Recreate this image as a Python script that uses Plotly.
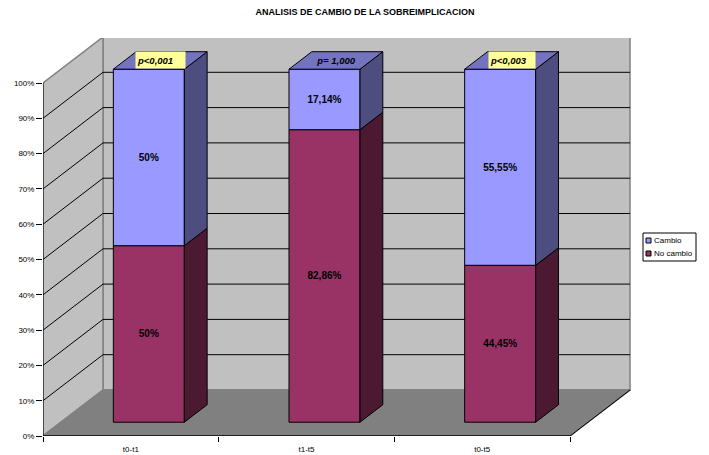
import plotly.graph_objects as go

categories = ["t0-t1", "t1-t5", "t0-t5"]
no_cambio = [50, 82.86, 44.45]
cambio = [50, 17.14, 55.55]
p_labels = ["p<0,001", "p= 1,000", "p<0,003"]
p_backgrounds = ["#FFFF99", "rgba(0,0,0,0)", "#FFFF99"]
y_ticks = list(range(0, 101, 10))
series_names = ["Cambio", "No cambio"]

PAGE = 8  # the browser's default page margin around the figure
W, H = 709 - PAGE, 455 - PAGE
L, R, T, B = 43 - PAGE, 631 - PAGE, 38 - PAGE, 436 - PAGE
CAT_PX = (570 - 43) / 3
PCT_PX = (436 - 83) / 100
DX = 60 / CAT_PX        # full depth in x units
DY = 46 / PCT_PX        # full depth in y units
BAR_W = 71 / CAT_PX
D0, D1 = 0.30, 0.68     # bar depth range
X0 = -0.5
X_END = 2.5
XMAX = X0 + (R - L) / CAT_PX
YMAX = (B - T) / PCT_PX

FRONT = {"Cambio": "#9999FF", "No cambio": "#993366"}
TOP = "#7373BF"
SIDE = {"Cambio": "#4D4D80", "No cambio": "#4C1933"}
P_BOX_W = [47, 46, 44]


def proj(x, y, d):
    return x + DX * d, y + DY * d


def poly(points):
    xs = [p[0] for p in points]
    ys = [p[1] for p in points]
    return "M" + "L".join(f"{a},{b}" for a, b in zip(xs, ys)) + "Z"


shapes = []


def wall(points, color):
    shapes.append(dict(type="path", path=poly(points), xref="x", yref="y", layer="below",
                       fillcolor=color, line=dict(color="#808080", width=1.5)))


# back wall, left wall, floor
wall([proj(X0, 0, 1), proj(X_END, 0, 1), proj(X_END, 100, 1), proj(X0, 100, 1)], "#C0C0C0")
wall([proj(X0, 0, 0), proj(X0, 0, 1), proj(X0, 100, 1), proj(X0, 100, 0)], "#C0C0C0")
wall([proj(X0, 0, 0), proj(X_END, 0, 0), proj(X_END, 0, 1), proj(X0, 0, 1)], "#808080")

# gridlines on walls
for t in y_ticks[1:-1]:
    a, b, c = proj(X0, t, 0), proj(X0, t, 1), proj(X_END, t, 1)
    shapes.append(dict(type="path", path=f"M{a[0]},{a[1]}L{b[0]},{b[1]}L{c[0]},{c[1]}",
                       xref="x", yref="y", layer="below", line=dict(color="#000000", width=1)))
# floor right edge
a, b = proj(X_END, 0, 0), proj(X_END, 0, 1)
shapes.append(dict(type="line", x0=a[0], y0=a[1], x1=b[0], y1=b[1], xref="x", yref="y",
                   layer="below", line=dict(color="#000000", width=1)))

fig = go.Figure()

# front faces
xf = [i + DX * D0 for i in range(3)]
zf = DY * D0
fmt = lambda v: "<b>" + (f"{v:.2f}".rstrip("0").rstrip(".")).replace(".", ",") + "%</b>"
fig.add_trace(go.Bar(name="No cambio", x=xf, y=no_cambio, base=[zf] * 3, width=BAR_W,
                     marker=dict(color=FRONT["No cambio"], line=dict(color="#000000", width=1)),
                     text=[fmt(v) for v in no_cambio], textposition="inside", insidetextanchor="middle",
                     textangle=0, textfont=dict(size=10, color="#000000", family="Liberation Sans"),
                     hoverinfo="skip", showlegend=False))
fig.add_trace(go.Bar(name="Cambio", x=xf, y=cambio, base=[zf + v for v in no_cambio], width=BAR_W,
                     marker=dict(color=FRONT["Cambio"], line=dict(color="#000000", width=1)),
                     text=[fmt(v) for v in cambio], textposition="inside", insidetextanchor="middle",
                     textangle=0, textfont=dict(size=10, color="#000000", family="Liberation Sans"),
                     hoverinfo="skip", showlegend=False))


def face(points, color):
    pts = points + [points[0]]
    fig.add_trace(go.Scatter(x=[p[0] for p in pts], y=[p[1] for p in pts], mode="lines",
                             fill="toself", fillcolor=color, line=dict(color="#000000", width=1),
                             hoverinfo="skip", showlegend=False))


# sides and tops
for i in range(3):
    xr = i + BAR_W / 2
    xl = i - BAR_W / 2
    n = no_cambio[i]
    t = n + cambio[i]
    face([proj(xr, 0, D0), proj(xr, 0, D1), proj(xr, n, D1), proj(xr, n, D0)], SIDE["No cambio"])
    face([proj(xr, n, D0), proj(xr, n, D1), proj(xr, t, D1), proj(xr, t, D0)], SIDE["Cambio"])
    face([proj(xl, t, D0), proj(xr, t, D0), proj(xr, t, D1), proj(xl, t, D1)], TOP)

# axis lines
fig.add_trace(go.Scatter(x=[X0, X_END], y=[0, 0], mode="lines", line=dict(color="#000000", width=1.5),
                         hoverinfo="skip", showlegend=False, cliponaxis=False))
fig.add_trace(go.Scatter(x=[X0, X0], y=[0, 100], mode="lines", line=dict(color="#000000", width=1),
                         hoverinfo="skip", showlegend=False, cliponaxis=False))

annotations = []
for i in range(3):
    top = no_cambio[i] + cambio[i]
    px, py = proj(i, top, (D0 + D1) / 2)
    annotations.append(dict(x=px, y=py, xref="x", yref="y", text=f"<b><i>{p_labels[i]}</i></b>", showarrow=False,
                            font=dict(size=9.5, color="#000000", family="Liberation Sans"),
                            bgcolor=p_backgrounds[i], borderpad=1, width=P_BOX_W[i], height=14,
                            align="left" if i != 1 else "center", xanchor="center", yanchor="middle"))

# legend box
LEG_X0, LEG_X1, LEG_Y0, LEG_Y1 = 643 - PAGE, 696 - PAGE, 233 - PAGE, 261 - PAGE
shapes.append(dict(type="rect", xref="paper", yref="paper",
                   x0=(LEG_X0 - L) / (R - L), x1=(LEG_X1 - L) / (R - L),
                   y0=(B - LEG_Y1) / (B - T), y1=(B - LEG_Y0) / (B - T),
                   fillcolor="#FFFFFF", line=dict(color="#000000", width=1)))
for k, name in enumerate(series_names):
    cy = LEG_Y0 + 7.5 + 13 * k
    sx = LEG_X0 + 3
    shapes.append(dict(type="rect", xref="paper", yref="paper",
                       x0=(sx - L) / (R - L), x1=(sx + 5 - L) / (R - L),
                       y0=(B - cy - 2.5) / (B - T), y1=(B - cy + 2.5) / (B - T),
                       fillcolor=FRONT[name], line=dict(color="#000000", width=1)))
    annotations.append(dict(x=(sx + 7 - L) / (R - L), y=(B - cy) / (B - T), xref="paper", yref="paper",
                            text=name, showarrow=False, xanchor="left", yanchor="middle", borderpad=0,
                            font=dict(size=8, color="#000000", family="Liberation Sans")))

fig.update_layout(
    width=W, height=H,
    margin=dict(l=L, r=W - R, t=T, b=H - B, pad=0, autoexpand=False),
    paper_bgcolor="#FFFFFF", plot_bgcolor="rgba(0,0,0,0)",
    barmode="overlay", showlegend=False,
    font=dict(family="Liberation Sans", size=8, color="#000000"),
    title=dict(text="<b>ANÁLISIS DE CAMBIO DE LA SOBREIMPLICACIÓN</b>", x=(365 - PAGE) / W, xanchor="center",
               y=1 - (12 - PAGE) / H, yanchor="middle", font=dict(size=9, color="#000000")),
    xaxis=dict(range=[X0, XMAX], tickvals=[0, 1, 2], ticktext=categories, ticks="", showgrid=False,
               zeroline=False, showline=False, automargin=False, ticklabelstandoff=7,
               minor=dict(tickvals=[-0.5, 0.5, 1.5, 2.5], ticks="outside", ticklen=5, tickcolor="#000000", tickwidth=1, showgrid=False)),
    yaxis=dict(range=[0, YMAX], tickvals=y_ticks, ticktext=[f"{v}%" for v in y_ticks], ticks="outside",
               ticklen=6, tickcolor="#000000", tickwidth=1, showgrid=False, zeroline=False, showline=False, automargin=False),
    shapes=shapes, annotations=annotations,
)

fig.write_html("out.html")
